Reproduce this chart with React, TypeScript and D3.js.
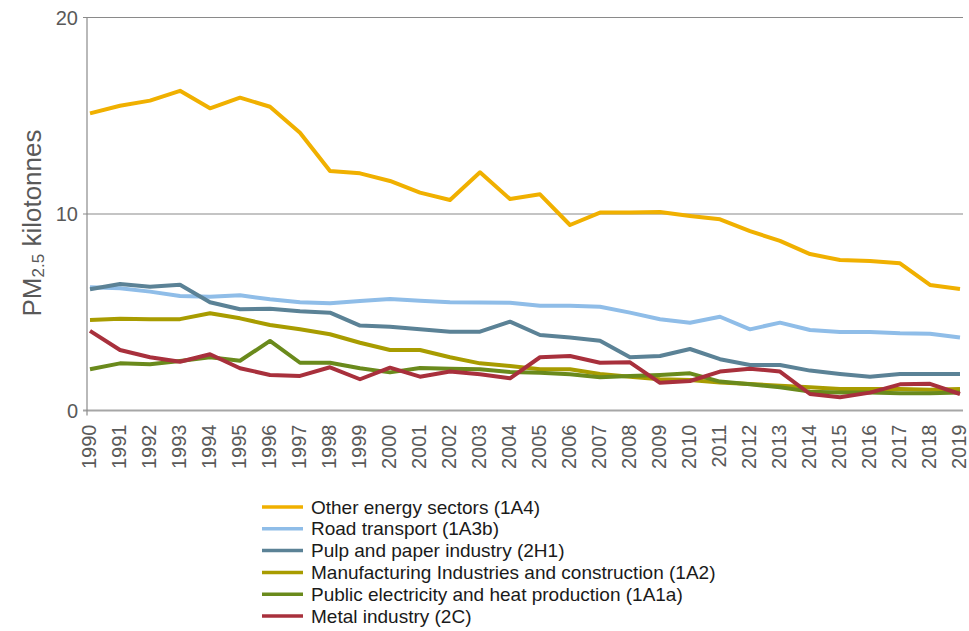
import * as d3 from "d3";

const width = 969;
const height = 631;

const years = d3.range(1990, 2020);

const otherEnergy = [15.12, 15.51, 15.77, 16.27, 15.38, 15.92, 15.46, 14.14, 12.19, 12.07, 11.68, 11.09, 10.71, 12.12, 10.76, 11.0, 9.44, 10.07, 10.07, 10.1, 9.9, 9.73, 9.13, 8.63, 7.96, 7.66, 7.61, 7.49, 6.39, 6.18];
const roadTransport = [6.27, 6.22, 6.05, 5.83, 5.79, 5.86, 5.66, 5.51, 5.46, 5.57, 5.67, 5.59, 5.51, 5.49, 5.48, 5.33, 5.33, 5.28, 4.98, 4.64, 4.47, 4.77, 4.13, 4.47, 4.1, 3.99, 3.99, 3.93, 3.91, 3.72];
const pulpPaper = [6.17, 6.44, 6.3, 6.4, 5.51, 5.15, 5.18, 5.05, 4.98, 4.32, 4.26, 4.13, 4.01, 4.01, 4.52, 3.84, 3.71, 3.55, 2.71, 2.77, 3.13, 2.61, 2.32, 2.32, 2.03, 1.86, 1.72, 1.86, 1.86, 1.86];
const manufacturing = [4.61, 4.67, 4.64, 4.65, 4.95, 4.69, 4.35, 4.13, 3.88, 3.45, 3.08, 3.08, 2.71, 2.4, 2.27, 2.1, 2.1, 1.86, 1.72, 1.59, 1.55, 1.43, 1.35, 1.26, 1.18, 1.09, 1.09, 1.09, 1.06, 1.09];
const publicElectricity = [2.1, 2.4, 2.35, 2.52, 2.71, 2.53, 3.54, 2.43, 2.43, 2.15, 1.94, 2.16, 2.13, 2.1, 1.96, 1.92, 1.84, 1.69, 1.76, 1.81, 1.89, 1.47, 1.33, 1.18, 0.96, 0.91, 0.91, 0.88, 0.88, 0.91];
const metalIndustry = [4.05, 3.08, 2.71, 2.48, 2.86, 2.15, 1.81, 1.76, 2.2, 1.59, 2.18, 1.72, 1.98, 1.84, 1.64, 2.71, 2.77, 2.43, 2.45, 1.41, 1.5, 1.98, 2.13, 1.98, 0.84, 0.67, 0.91, 1.33, 1.36, 0.84];

const seriesNames = [
  "Other energy sectors (1A4)",
  "Road transport (1A3b)",
  "Pulp and paper industry (2H1)",
  "Manufacturing Industries and construction (1A2)",
  "Public electricity and heat production (1A1a)",
  "Metal industry (2C)",
];
const seriesValues = [otherEnergy, roadTransport, pulpPaper, manufacturing, publicElectricity, metalIndustry];
const colors = ["#f0b000", "#8fbde8", "#5b8296", "#a89c00", "#6a8a1c", "#a8303c"];
const yTicks = [0, 10, 20];

const font = "'Liberation Sans', Arial, sans-serif";

export default function App() {
  const x = d3.scalePoint<number>().domain(years).range([90, 960]);
  const y = d3.scaleLinear().domain([0, 20]).range([410.5, 17.5]);
  const line = d3
    .line<number>()
    .x((_, i) => x(years[i]) as number)
    .y((d) => y(d));

  const axisLeft = 87;
  const axisRight = 963;

  return (
    <svg
      width={width}
      height={height}
      style={{ position: "absolute", left: 0, top: 0, background: "#fff" }}
      fontFamily={font}
    >
      {/* grid */}
      {yTicks.map((t) => (
        <g key={t}>
          <line
            x1={axisLeft - 4}
            x2={axisRight}
            y1={y(t)}
            y2={y(t)}
            stroke={t === 0 ? "#a6a6a6" : "#8a8a8a"}
            strokeWidth={t === 0 ? 2 : 1.2}
          />
          <text
            x={78}
            y={y(t)}
            textAnchor="end"
            dominantBaseline="central"
            fontSize={20}
            fill="#595959"
          >
            {t}
          </text>
        </g>
      ))}
      <line x1={axisLeft} x2={axisLeft} y1={y(20)} y2={y(0) + 5} stroke="#8a8a8a" strokeWidth={1.2} />

      {/* x labels */}
      {years.map((yr) => (
        <text
          key={yr}
          transform={`translate(${(x(yr) as number) + 6},${y(0) + 14}) rotate(-90)`}
          textAnchor="end"
          fontSize={20}
          fill="#595959"
        >
          {yr}
        </text>
      ))}

      {/* y title */}
      <text
        transform="translate(41,223) rotate(-90)"
        textAnchor="middle"
        fontSize={26}
        fill="#595959"
      >
        PM
        <tspan fontSize={17} dy={3}>2.5</tspan>
        <tspan dy={-3}> kilotonnes</tspan>
      </text>

      {/* lines */}
      {seriesValues.map((vals, i) => (
        <path
          key={seriesNames[i]}
          d={line(vals) ?? ""}
          fill="none"
          stroke={colors[i]}
          strokeWidth={4}
          strokeLinejoin="round"
        />
      ))}

      {/* legend */}
      {seriesNames.map((name, i) => {
        const ly = 507 + i * 21.8;
        return (
          <g key={name}>
            <line x1={262} x2={303} y1={ly} y2={ly} stroke={colors[i]} strokeWidth={3.5} />
            <text x={311} y={ly} dominantBaseline="central" fontSize={19} fill="#1a1a1a">
              {name}
            </text>
          </g>
        );
      })}
    </svg>
  );
}
